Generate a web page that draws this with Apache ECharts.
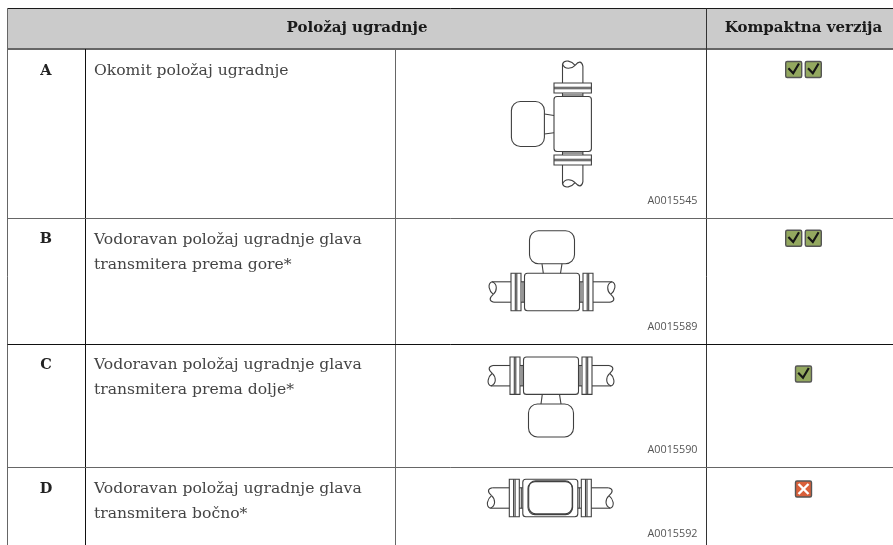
<!DOCTYPE html>
<html>
<head>
<meta charset="utf-8">
<style>html,body{margin:0;padding:0;background:#fff}#main{width:893px;height:545px}</style>
<script src="https://cdn.jsdelivr.net/npm/echarts@6/dist/echarts.min.js"></script>
</head>
<body>
<div id="main"></div>
<script>
// table content
var headers = ['Položaj ugradnje', 'Kompaktna verzija'];
var rowKeys = ['A', 'B', 'C', 'D'];
var rowTexts = [
    'Okomit položaj ugradnje',
    'Vodoravan položaj ugradnje glava\ntransmitera prema gore*',
    'Vodoravan položaj ugradnje glava\ntransmitera prema dolje*',
    'Vodoravan položaj ugradnje glava\ntransmitera bočno*'
];
var figureCodes = ['A0015545', 'A0015589', 'A0015590', 'A0015592'];
var checkCounts = [2, 2, 1, 0]; // 0 = not allowed (red cross)

// layout
var X_LEFT = 7.5, X_KEY = 85.5, X_TEXT = 395.5, X_FIG = 706.5, X_END = 893;
var Y_TOP = 8.5, Y_HEAD = 49, Y_END = 545;
var rowY = [49, 218.5, 344.5, 467.5];
var keyX = 46, textX = 94, checkX = 803.5;
var textY = [71, 239.5, 365, 489];
var checkY = [69.5, 238.3, 374, 489];
var codeY = [201, 327, 450, 534];
var meters = [
    {x: 572.7, y: 124, rotation: Math.PI / 2, flip: 1, head: 'side'},
    {x: 552, y: 292, rotation: 0, flip: 1, head: 'side'},
    {x: 551, y: 375.7, rotation: 0, flip: -1, head: 'side'},
    {x: 550.3, y: 498, rotation: 0, flip: -1, head: 'front'}
];

var INK = '#404040';
var SERIF = '"DejaVu Serif", serif';
var LW = 1.1;

function ln(x1, y1, x2, y2, color, w) {
    return {type: 'line', shape: {x1: x1, y1: y1, x2: x2, y2: y2}, style: {stroke: color || INK, lineWidth: w || LW}, silent: true};
}
function box(x, y, w, h, r, fill) {
    return {type: 'rect', shape: {x: x, y: y, width: w, height: h, r: r || 0}, style: {fill: fill || 'none', stroke: INK, lineWidth: LW}, silent: true};
}
function curve(x1, y1, c1x, c1y, c2x, c2y, x2, y2) {
    return {type: 'bezierCurve', shape: {x1: x1, y1: y1, cpx1: c1x, cpy1: c1y, cpx2: c2x, cpy2: c2y, x2: x2, y2: y2}, style: {fill: 'none', stroke: INK, lineWidth: LW}, silent: true};
}

// one flow meter drawn around the pipe axis, head up
function meterGroup(m) {
    var c = [];
    [-1, 1].forEach(function (s) {
        c.push(ln(s * 41, -10.2, s * 60, -10.2), ln(s * 41, 10.2, s * 58, 10.2));
        // broken pipe end
        c.push(curve(s * 58, 10.2, s * 63, 9, s * 63, 6, s * 58.7, 2.4));
        c.push(curve(s * 58.7, 2.4, s * 55, -1, s * 54, -8, s * 60, -10.2));
        c.push(curve(s * 58.7, 2.4, s * 63, -1, s * 65, -8, s * 60, -10.2));
        // connector
        c.push(ln(s * 27.5, -10.2, s * 31, -10.2), ln(s * 27.5, 10.2, s * 31, 10.2), ln(s * 29, -10.2, s * 29, 10.2));
        // flange
        c.push(box(s > 0 ? 31 : -41, -18.7, 10, 37.4));
        c.push(ln(s * 35.2, -18.7, s * 35.2, 18.7), ln(s * 36.7, -18.7, s * 36.7, 18.7));
    });
    c.push(box(-27.5, -18.7, 55, 37.4, 3));
    if (m.head === 'side') {
        c.push(ln(-10, -28.3, -8.7, -18.7), ln(10, -28.3, 8.5, -18.7));
        c.push(box(-22.5, -61.3, 45, 33, 9));
    } else {
        c.push(box(-22.3, -16.6, 44.6, 33, 7), box(-21.6, -15.8, 43.5, 33, 7));
    }
    return {type: 'group', x: m.x, y: m.y, rotation: m.rotation, scaleY: m.flip, children: c, silent: true};
}

function checkBox(cx, cy, ok) {
    var kids = [{
        type: 'rect', shape: {x: -8, y: -8, width: 16, height: 16, r: 1.5},
        style: {fill: ok ? '#93a85f' : '#d9603a', stroke: '#555', lineWidth: 1.4}
    }];
    if (ok) {
        kids.push({type: 'polyline', shape: {points: [[-5.3, -1.3], [-0.5, 3.7], [5.3, -6]]},
            style: {fill: 'none', stroke: '#161616', lineWidth: 2.2}});
    } else {
        kids.push(ln(-5, -5, 5, 5, '#fff', 2.4), ln(-5, 5, 5, -5, '#fff', 2.4));
    }
    return {type: 'group', x: cx, y: cy, children: kids, silent: true};
}

function label(x, y, str, size, weight, align, color, family) {
    return {type: 'text', x: x, y: y, silent: true, style: {
        text: str, fontFamily: family || SERIF, fontSize: size, fontWeight: weight,
        fill: color, align: align, verticalAlign: 'middle', lineHeight: 25
    }};
}

var els = [];
els.push({type: 'rect', shape: {x: X_LEFT, y: Y_TOP, width: X_END - X_LEFT, height: Y_HEAD - Y_TOP}, style: {fill: '#cbcbcb'}, silent: true});
els.push(ln(X_LEFT, Y_TOP, X_END, Y_TOP, '#1a1a1a', 1));
els.push(ln(X_LEFT, Y_HEAD, X_END, Y_HEAD, '#666', 2));
els.push(ln(X_LEFT, Y_TOP, X_LEFT, Y_END, '#666', 1));
els.push(ln(X_KEY, Y_HEAD, X_KEY, Y_END, '#111', 1));
els.push(ln(X_TEXT, Y_HEAD, X_TEXT, Y_END, '#666', 1));
els.push(ln(X_FIG, Y_TOP, X_FIG, Y_END, '#333', 1));
rowY.slice(1).forEach(function (y, i) {
    els.push(ln(X_LEFT, y, X_END, y, i === 1 ? '#111' : '#666', 1));
});
els.push(label((X_LEFT + X_FIG) / 2, 28, headers[0], 15, 600, 'center', '#1a1a1a'));
els.push(label(checkX, 28, headers[1], 15, 600, 'center', '#1a1a1a'));

rowKeys.forEach(function (k, i) {
    els.push(label(keyX, textY[i], k, 14.5, 'bold', 'center', '#222'));
    els.push({type: 'text', x: textX, y: textY[i] - 12.5, silent: true, style: {
        text: rowTexts[i], fontFamily: SERIF, fontSize: 15.6, fill: '#444',
        align: 'left', verticalAlign: 'top', lineHeight: 25
    }});
    els.push(meterGroup(meters[i]));
    els.push(label(697.5, codeY[i], figureCodes[i], 10.8, 'normal', 'right', '#555', '"Open Sans", sans-serif'));
    if (checkCounts[i] === 2) {
        els.push(checkBox(checkX - 9.8, checkY[i], true), checkBox(checkX + 9.8, checkY[i], true));
    } else {
        els.push(checkBox(checkX, checkY[i], checkCounts[i] === 1));
    }
});

var chart = echarts.init(document.getElementById('main'), null, {renderer: 'canvas'});
chart.setOption({animation: false, backgroundColor: '#fff', graphic: {elements: els}});
</script>
</body>
</html>
